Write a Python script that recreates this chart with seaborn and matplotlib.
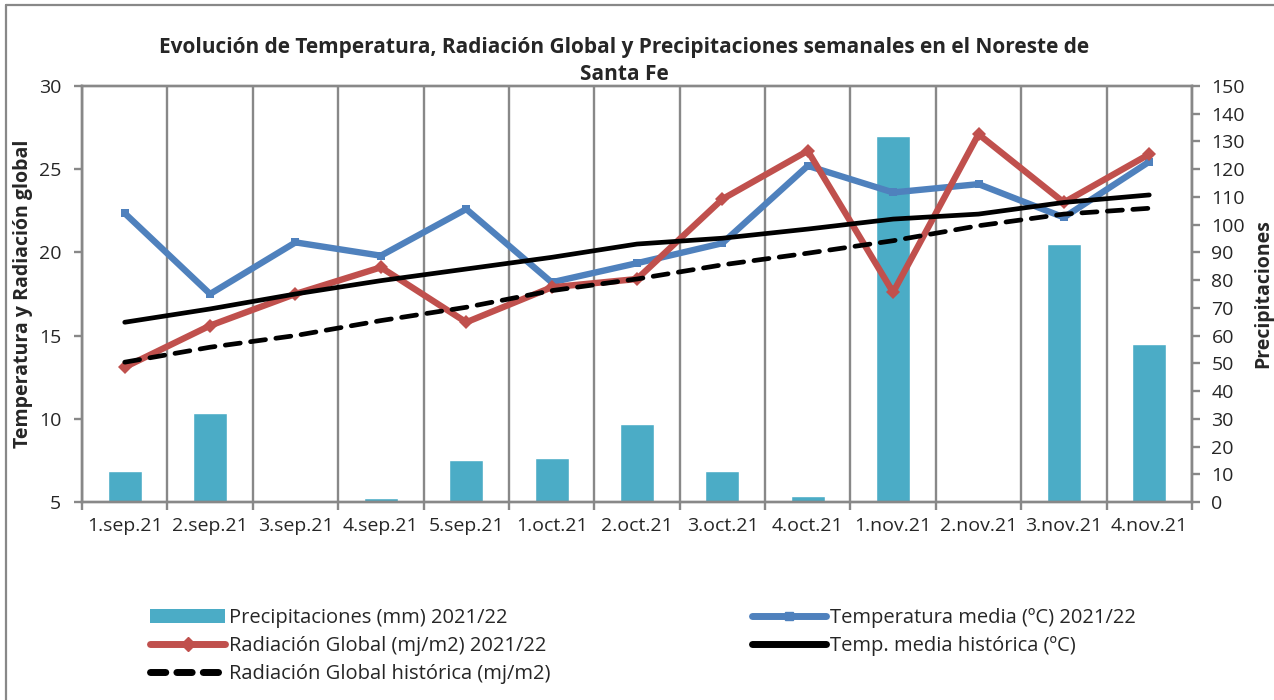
"""
Temperatura, radiación global y precipitaciones semanales - Noreste de Santa Fe
"""

import numpy as np
import matplotlib.pyplot as plt
import seaborn as sns
from matplotlib.patches import Patch
from matplotlib.lines import Line2D

# -- Data ----------------------------------------------------------------
weeks = ["1.sep.21", "2.sep.21", "3.sep.21", "4.sep.21", "5.sep.21",
         "1.oct.21", "2.oct.21", "3.oct.21", "4.oct.21",
         "1.nov.21", "2.nov.21", "3.nov.21", "4.nov.21"]
precip = [11, 32, 0, 1.3, 15, 16, 28, 11, 2.3, 132, 0, 93, 57]
temp = [22.35, 17.5, 20.6, 19.8, 22.6, 18.2, 19.35, 20.55, 25.2, 23.6, 24.1, 22.1, 25.45]
rad = [13.1, 15.6, 17.5, 19.1, 15.8, 17.9, 18.4, 23.2, 26.1, 17.6, 27.1, 23.0, 25.9]
temp_hist = [15.8, 16.6, 17.5, 18.3, 19.0, 19.7, 20.5, 20.85, 21.4, 22.0, 22.3, 23.0, 23.45]
rad_hist = [13.4, 14.3, 15.0, 15.9, 16.7, 17.7, 18.4, 19.25, 19.95, 20.7, 21.6, 22.3, 22.65]

# -- Style -----------------------------------------------------------------
sns.set_theme(style="white")
plt.rcParams["font.family"] = ["Open Sans", "DejaVu Sans"]

COLORS = {
    "bar": "#4bacc6",
    "temp": "#4f81bd",
    "rad": "#c0504d",
    "hist": "#000000",
    "grid": "#888888",
    "text": "#262626",
}

fig = plt.figure(figsize=(12.74, 7.0), dpi=100)
ax = fig.add_axes([0.0644, 0.2829, 0.8712, 0.5943])

# bars on the base axes (so they sit under the lines)
sns.barplot(x=weeks, y=precip, order=weeks, ax=ax, color=COLORS["bar"],
            saturation=1, width=0.4, zorder=2)
ax.set_xlim(-0.5, len(weeks) - 0.5)
ax.set_ylim(0, 150)
ax.set_yticks(np.arange(0, 151, 10))
ax.set_yticks(np.arange(0, 151, 30), minor=True)
ax.set_xticks(np.arange(len(weeks) + 1) - 0.5, minor=True)
ax.grid(which="minor", color=COLORS["grid"], linewidth=1.7, zorder=0)
ax.set_axisbelow(True)
ax.set_xlabel("")

# lines on the twin axes
ax2 = ax.twinx()
pos = np.arange(len(weeks))
sns.lineplot(x=pos, y=temp, ax=ax2, color=COLORS["temp"], linewidth=4.6,
             marker="s", markersize=6, markeredgewidth=0, legend=False)
sns.lineplot(x=pos, y=rad, ax=ax2, color=COLORS["rad"], linewidth=4.6,
             marker="D", markersize=7, markeredgewidth=0, legend=False)
sns.lineplot(x=pos, y=temp_hist, ax=ax2, color=COLORS["hist"], linewidth=3.4,
             legend=False, solid_capstyle="round")
sns.lineplot(x=pos, y=rad_hist, ax=ax2, color=COLORS["hist"], linewidth=3.4,
             linestyle=(0, (3.2, 2.2)), dash_capstyle="round", legend=False)
ax2.set_ylim(5, 30)
ax2.set_yticks(np.arange(5, 31, 5))
ax2.grid(False)

# precipitation scale on the right, temperature/radiation scale on the left
ax.yaxis.set_ticks_position("right")
ax.yaxis.set_label_position("right")
ax2.yaxis.set_ticks_position("left")
ax2.yaxis.set_label_position("left")
ax.set_ylabel("Precipitaciones", fontsize=14, fontweight="bold", labelpad=6)
ax2.set_ylabel("Temperatura y Radiación global", fontsize=14, fontweight="bold",
               labelpad=4)

ax.tick_params(axis="x", which="major", length=0, pad=11, labelsize=14,
               colors=COLORS["text"])
ax.tick_params(axis="x", which="minor", length=6, width=1.7, color=COLORS["grid"],
               direction="out", bottom=True)
ax.tick_params(axis="y", which="major", length=6, width=1.7, color=COLORS["grid"],
               pad=8, labelsize=14, labelcolor=COLORS["text"],
               right=True, labelright=True, left=False, labelleft=False)
ax.tick_params(axis="y", which="minor", length=0)
ax2.tick_params(axis="y", length=6, width=1.7, color=COLORS["grid"], pad=9,
                labelsize=14, labelcolor=COLORS["text"],
                left=True, labelleft=True, right=False, labelright=False)

for a in (ax, ax2):
    for s in a.spines.values():
        s.set_color(COLORS["grid"])
        s.set_linewidth(1.7)

fig.text(0.49, 0.913,
         "Evolución de Temperatura, Radiación Global y Precipitaciones semanales en el Noreste de\nSanta Fe",
         ha="center", va="center", fontsize=15, fontweight="bold", linespacing=1.35)

# legend
handles = [
    Patch(facecolor=COLORS["bar"], edgecolor="none"),
    Line2D([], [], color=COLORS["rad"], lw=5, marker="D", markersize=7, solid_capstyle="round"),
    Line2D([], [], color=COLORS["hist"], lw=5, linestyle=(0, (2.2, 1.6)), dash_capstyle="round"),
    Line2D([], [], color=COLORS["temp"], lw=5, marker="s", markersize=6, solid_capstyle="round"),
    Line2D([], [], color=COLORS["hist"], lw=5, solid_capstyle="round"),
]
labels = [
    "Precipitaciones (mm) 2021/22",
    "Radiación Global (mj/m2) 2021/22",
    "Radiación Global histórica (mj/m2)",
    "Temperatura media (ºC) 2021/22",
    "Temp. media histórica (ºC)",
]
fig.legend(handles, labels, ncol=2, loc="upper left", bbox_to_anchor=(0.118, 0.131),
           frameon=False, fontsize=14.5, handlelength=3.7, handleheight=0.7,
           handletextpad=0.2, labelspacing=0.38, columnspacing=10.0,
           borderpad=0, borderaxespad=0, labelcolor=COLORS["text"])

# chart border (top and left, as in the reference crop)
fig.add_artist(Line2D([0.0047, 1.0], [0.9929, 0.9929], color=COLORS["grid"], lw=1.6))
fig.add_artist(Line2D([0.0047, 0.0047], [0.0, 0.9929], color=COLORS["grid"], lw=1.6))

fig.savefig("out.png", dpi=100)
